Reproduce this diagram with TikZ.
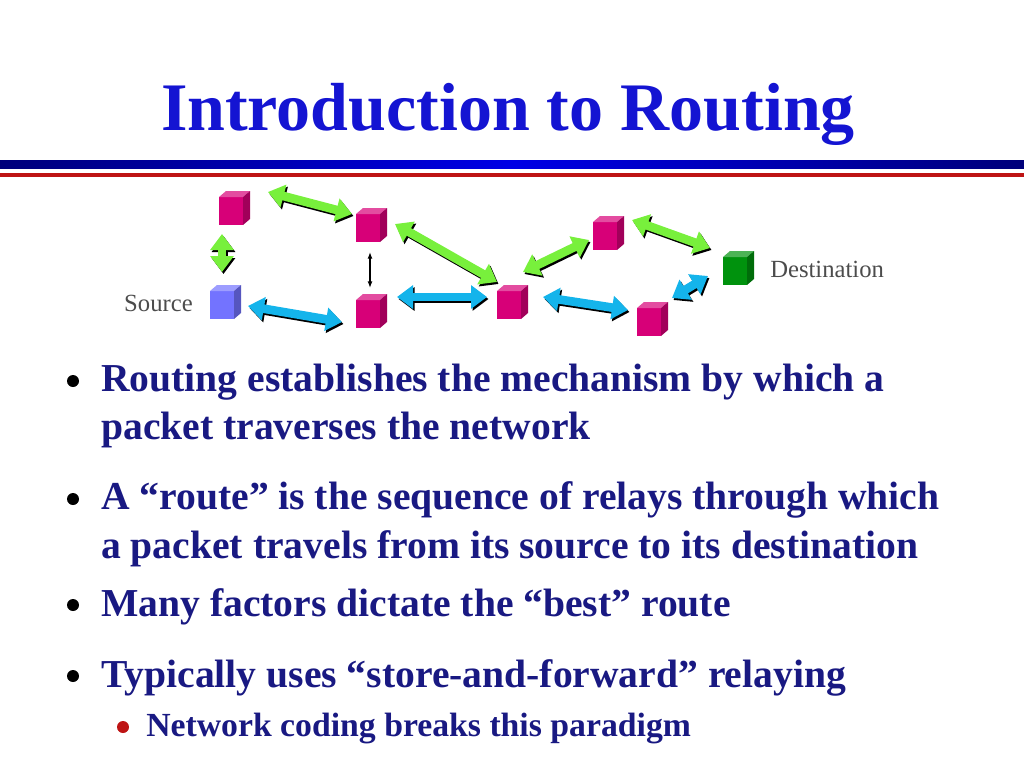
\documentclass[tikz,border=0pt]{standalone}
\usepackage{fontspec}
\setmainfont{Liberation Serif}
\usetikzlibrary{arrows.meta,calc}
\definecolor{titleblue}{RGB}{20,20,210}
\definecolor{txt}{RGB}{25,25,130}
\definecolor{mag}{RGB}{215,0,120}
\definecolor{lgreen}{RGB}{120,240,60}
\definecolor{lblue}{RGB}{20,180,235}
\definecolor{dred}{RGB}{190,20,20}
\tikzset{
 big/.style={line width=6.5pt,arrows={Triangle[length=12pt,width=17pt]-Triangle[length=12pt,width=17pt]}},
 bul/.style={anchor=base west,font=\bfseries\fontsize{29.7}{34}\selectfont,text=txt,inner sep=0},
 sub/.style={anchor=base west,font=\bfseries\fontsize{25.3}{28}\selectfont,text=txt,inner sep=0},
 lab/.style={font=\fontsize{18.5}{21}\selectfont,text=black!70,inner sep=0}
}
\newcommand{\mycube}[3]{% name, pos, color
 \coordinate (#1) at #2;
 \fill[#3] ($(#1)+(-12,-12)$) rectangle ($(#1)+(12,16)$);
 \fill[#3!70!white] ($(#1)+(-12,-12)$) -- ($(#1)+(-5,-18)$) -- ($(#1)+(19,-18)$) -- ($(#1)+(12,-12)$) -- cycle;
 \fill[#3!75!black] ($(#1)+(12,-12)$) -- ($(#1)+(19,-18)$) -- ($(#1)+(19,10)$) -- ($(#1)+(12,16)$) -- cycle;
}
\begin{document}
\begin{tikzpicture}[x=0.75pt,y=-0.75pt]
\useasboundingbox (0,0) rectangle (1024,768);
\node[font=\bfseries\fontsize{51}{55}\selectfont,text=titleblue,anchor=base] (title) at (508,130) {Introduction to Routing};
\shade[left color=black!20!blue!60!black,right color=black!20!blue!60!black,middle color=blue!90!black] (0,160) rectangle (1024,168);
\fill[dred] (0,173) rectangle (1024,176.5);
% cubes
\mycube{A}{(231,209)}{mag}
\mycube{B}{(368,226)}{mag}
\mycube{C}{(222,303)}{blue!55!white}
\mycube{D}{(368,312)}{mag}
\mycube{E}{(509,303)}{mag}
\mycube{F}{(605,234)}{mag}
\mycube{G}{(735,269)}{green!55!black!95!cyan}
\mycube{H}{(649,320)}{mag}
\node[lab,anchor=east] (src) at (193,303) {Source};
\node[lab,anchor=west] (dst) at (770,269) {Destination};
% arrows: shadow then color
\foreach \a/\b/\c in {{(268,192)}/{(352,214)}/lgreen,{(222,234)}/{(222,272)}/lgreen,{(395,224)}/{(497,282)}/lgreen,{(523,272)}/{(589,240)}/lgreen,{(632,220)}/{(710,248)}/lgreen,{(248,306)}/{(342,322)}/lblue,{(397,297)}/{(487,297)}/lblue,{(543,297)}/{(628,310)}/lblue,{(672,298)}/{(708,276)}/lblue}{
 \draw[big,black,shift={(1.5,2)}] \a -- \b;
 \draw[big,\c] \a -- \b;
}
\draw[line width=1.2pt,{Latex[length=5pt]}-{Latex[length=5pt]}] ($(B)+(2,26)$) -- ($(D)+(2,-24)$);
% bullets
\foreach \y in {381,499,605,676}{\fill[black] (73,\y) circle[radius=4.5pt];}
\fill[dred] (123,727) circle[radius=4.5pt];
\node[bul] (t1) at (101,391) {Routing establishes the mechanism by which a};
\node[bul] (t1b) at (101,439) {packet traverses the network};
\node[bul] (t2) at (101,509) {A “route” is the sequence of relays through which};
\node[bul] (t2b) at (101,558) {a packet travels from its source to its destination};
\node[bul] (t3) at (101,616) {Many factors dictate the “best” route};
\node[bul] (t4) at (101,687) {Typically uses “store-and-forward” relaying};
\node[sub] (t5) at (146,736) {Network coding breaks this paradigm};
\end{tikzpicture}
\end{document}
